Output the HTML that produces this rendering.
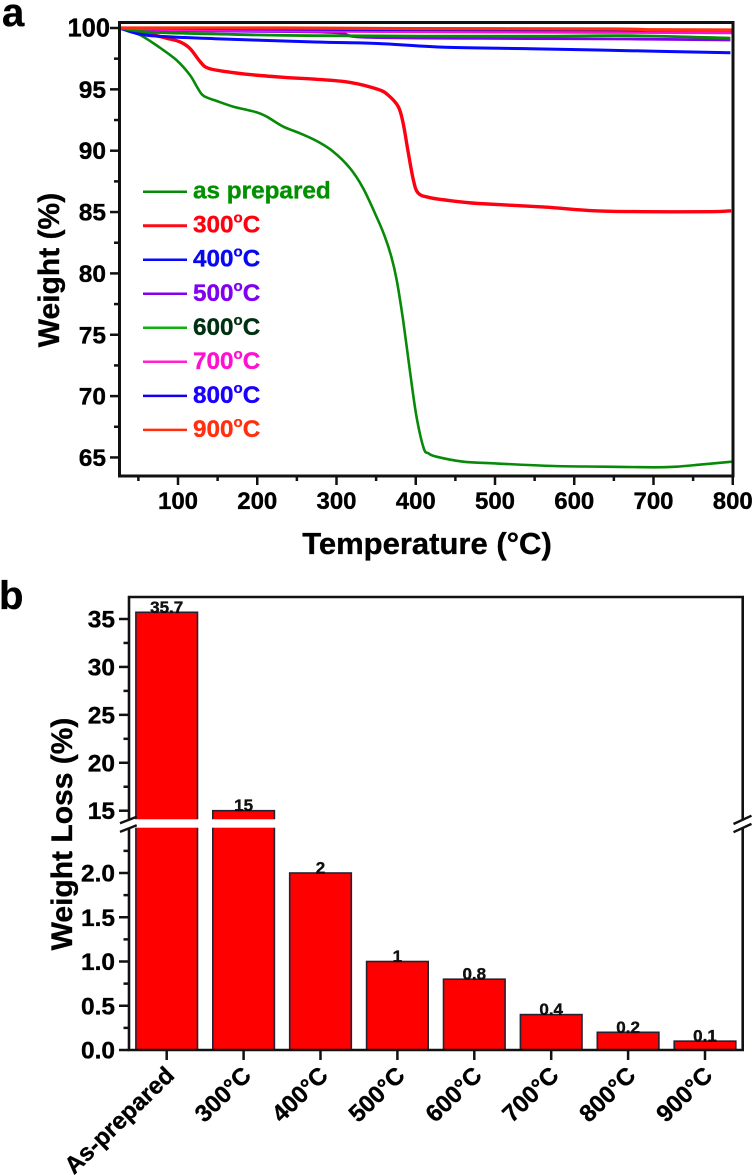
<!DOCTYPE html>
<html lang="en">
<head>
<meta charset="utf-8">
<title>TGA curves and weight loss</title>
<style>
html,body{margin:0;padding:0;background:#fff;}
svg{display:block;font-family:"Liberation Sans",Arial,sans-serif;font-weight:bold;filter:blur(0.3px);}
svg text{stroke:#000;stroke-width:.35;}
</style>
</head>
<body>
<svg id="fig" xmlns="http://www.w3.org/2000/svg" width="756" height="1175" viewBox="0 0 756 1175">
  <rect x="0" y="0" width="756" height="1175" fill="#fff"/>
  <text x="2" y="26" font-size="40" fill="#000">a</text>
  <text x="-1" y="609" font-size="40" fill="#000">b</text>
  <text x="427" y="554" font-size="31" text-anchor="middle" fill="#000">Temperature (°C)</text>
  <text transform="translate(59,270) rotate(-90)" font-size="30" text-anchor="middle" fill="#000">Weight (%)</text>
  <text transform="translate(72,834) rotate(-90)" font-size="30" text-anchor="middle" fill="#000">Weight Loss (%)</text>
  <g id="panelA"></g>
  <g id="panelB"></g>
</svg>
<script>
// ---------- Panel a data ----------
const tempAsPrepared = [26,52,77,98,115,124,132,149,170,199,212,233,254,275,296,317,334,352,361,369,376,384,393,401,410,416,426,460,498,574,637,700,729,763,799];
const weightAsPrepared = [100,99.43,98.4,97.39,96.17,95.2,94.48,94.05,93.59,93.13,92.77,91.96,91.42,90.79,89.92,88.57,86.9,84.4,83.0,81.4,79.46,76.2,71.88,68.32,65.75,65.34,65.06,64.65,64.52,64.3,64.25,64.2,64.25,64.44,64.65];
const temp300 = [26,60,86,102,115,128,138,161,191,233,275,317,352,365,378,384,390,397,403,416,437,479,563,626,690,773,798];
const weight300 = [100,99.57,99.16,98.88,98.34,97.25,96.72,96.44,96.2,95.98,95.82,95.57,95,94.54,93.59,92.26,90.06,87.6,86.55,86.2,85.98,85.7,85.4,85.1,85.03,85.03,85.1];
const temp400 = [26,62,147,273,352,437,544,670,797];
const weight400 = [100,99.4,99.13,98.86,98.74,98.43,98.31,98.15,97.99];
const temp500 = [26,60,125,241,304,342,544,670,797];
const weight500 = [100,99.88,99.76,99.71,99.59,99.23,99.14,99.1,99.02];
const temp600 = [26,62,147,273,544,670,797];
const weight600 = [100,99.67,99.51,99.37,99.33,99.37,99.18];
const temp700 = [26,100,300,500,800];
const weight700 = [100,99.85,99.72,99.66,99.6];
const temp800 = [26,300,500,640,800];
const weight800 = [100,99.88,99.85,99.83,99.8];
const temp900 = [26,230,400,650,700,800];
const weight900 = [100,100,99.95,99.92,99.86,99.84];

const seriesLabels = ['as prepared','300oC','400oC','500oC','600oC','700oC','800oC','900oC'];
const seriesKeys = ['as-prepared','300c','400c','500c','600c','700c','800c','900c'];
const xTicksA = [100,200,300,400,500,600,700,800];
const xMinorTicksA = [50,150,250,350,450,550,650,750];
const yTicksA = [65,70,75,80,85,90,95,100];
const yMinorTicksA = [67.5,72.5,77.5,82.5,87.5,92.5,97.5];

// ---------- Panel b data ----------
const barCategories = ['As-prepared','300°C','400°C','500°C','600°C','700°C','800°C','900°C'];
const barValues = [35.7,15,2,1,0.8,0.4,0.2,0.1];
const barValueLabels = ['35.7','15','2','1','0.8','0.4','0.2','0.1'];
const yTicksUpper = [15,20,25,30,35];
const yMinorUpper = [17.5,22.5,27.5,32.5];
const yTicksLower = ['0.0','0.5','1.0','1.5','2.0'];
const yMinorLower = [0.25,0.75,1.25,1.75,2.25];

// ---------- Helpers ----------
const SVGNS = 'http://www.w3.org/2000/svg';
function make(parent, tag, attrs, txt) {
  const el = document.createElementNS(SVGNS, tag);
  for (const k in attrs) el.setAttribute(k, attrs[k]);
  if (txt !== undefined) el.textContent = txt;
  parent.appendChild(el);
  return el;
}
function smoothPath(p) {
  let d = 'M' + p[0][0].toFixed(1) + ' ' + p[0][1].toFixed(1);
  for (let i = 0; i < p.length - 1; i++) {
    const a = p[Math.max(i - 1, 0)], b = p[i], c = p[i + 1], e = p[Math.min(i + 2, p.length - 1)];
    const c1x = b[0] + (c[0] - a[0]) / 6, c1y = b[1] + (c[1] - a[1]) / 6;
    const c2x = c[0] - (e[0] - b[0]) / 6, c2y = c[1] - (e[1] - b[1]) / 6;
    d += 'C' + c1x.toFixed(1) + ' ' + c1y.toFixed(1) + ' ' + c2x.toFixed(1) + ' ' + c2y.toFixed(1) + ' ' + c[0].toFixed(1) + ' ' + c[1].toFixed(1);
  }
  return d;
}
const BLACK = '#111';

// ---------- Panel a ----------
const A = {left:119.5, right:733, top:22.5, bottom:476};
const xA = t => 178 + (t - 100) * 0.7925;
const yA = w => 28 + (100 - w) * 12.27;
const gA = document.getElementById('panelA');
const seriesTemps = [tempAsPrepared,temp300,temp400,temp500,temp600,temp700,temp800,temp900];
const seriesWeights = [weightAsPrepared,weight300,weight400,weight500,weight600,weight700,weight800,weight900];
const seriesColors = ['#078a07','#ff0010','#0808ff','#8000f0','#078a07','#ff10d0','#1000f0','#ff3010'];
const legendLineColors = ['#078a07','#ff0a1a','#0808ff','#8000f0','#10b010','#ff20d0','#1000f0','#ff3010'];
const legendTextColors = ['#009000','#ff0010','#0808f0','#8000f0','#003010','#ff10d0','#1a00ff','#ff3010'];
const seriesWidths = [2.6,3.4,3,2.8,2.8,2.6,2.6,3.2];

seriesTemps.forEach((temps, i) => {
  const pts = temps.map((t, j) => [xA(t), yA(seriesWeights[i][j])]);
  const el = make(gA, 'path', {d: smoothPath(pts), fill: 'none', stroke: seriesColors[i], 'stroke-width': seriesWidths[i], 'stroke-linejoin': 'round'});
  
  
});

const frameA = make(gA, 'rect', {x: A.left, y: A.top, width: A.right - A.left, height: A.bottom - A.top, fill: 'none', stroke: BLACK, 'stroke-width': 3});



xTicksA.forEach(t => {
  const tick = make(gA, 'line', {x1: xA(t), x2: xA(t), y1: A.bottom, y2: 485, stroke: BLACK, 'stroke-width': 2.5});
  
  
  const lab = make(gA, 'text', {x: xA(t), y: 509, 'text-anchor': 'middle', 'font-size': 24, fill: '#000'}, String(t));
  
  
});
xMinorTicksA.forEach(t => {
  const tick = make(gA, 'line', {x1: xA(t), x2: xA(t), y1: A.bottom, y2: 481, stroke: BLACK, 'stroke-width': 2.5});
  
  
});
yTicksA.forEach(v => {
  const tick = make(gA, 'line', {x1: 110, x2: A.left, y1: yA(v), y2: yA(v), stroke: BLACK, 'stroke-width': 2.5});
  
  
  const lab = make(gA, 'text', {x: v === 100 ? 110 : 106, y: yA(v) + 8.5, 'text-anchor': 'end', 'font-size': v === 100 ? 25.5 : 24.5, fill: '#000'}, String(v));
  
  
});
yMinorTicksA.forEach(v => {
  const tick = make(gA, 'line', {x1: 114, x2: A.left, y1: yA(v), y2: yA(v), stroke: BLACK, 'stroke-width': 2.5});
  
  
});

seriesLabels.forEach((name, i) => {
  const ly = 191.7 + i * 34.02;
  const line = make(gA, 'line', {x1: 143, x2: 187, y1: ly, y2: ly, stroke: legendLineColors[i], 'stroke-width': i === 1 ? 3 : 2.5});
  
  
  const label = make(gA, 'text', {x: 193, y: ly + 7, 'font-size': 24.3, fill: legendTextColors[i]});
  label.style.stroke = legendTextColors[i];
  
  
  if (name.endsWith('oC')) {
    make(label, 'tspan', {}, name.slice(0, -2));
    make(label, 'tspan', {'font-size': 15, dy: -10}, 'o');
    make(label, 'tspan', {dy: 10}, 'C');
  } else {
    label.textContent = name;
  }
});

// ---------- Panel b ----------
const B = {left:129, right:742.7, top:597, bottom:1050, gapTop:819.3, gapBottom:827.7};
const yUpper = v => 810.7 - (v - 15) * 9.585;
const yLower = v => 1050 - v * 88.5;
const yB = v => v > 2.5 ? yUpper(v) : yLower(v);
const xB = i => 166.7 + i * 76.9;
const barW = 61.6;
const gB = document.getElementById('panelB');

barValues.forEach((v, i) => {
  const top = yB(v);
  const bar = make(gB, 'rect', {x: xB(i) - barW / 2, y: top, width: barW, height: B.bottom - top, fill: '#ff0000', stroke: '#223', 'stroke-width': 1.6});
  
  
  const val = make(gB, 'text', {x: xB(i), y: top + 0.5, 'text-anchor': 'middle', 'font-size': 17, fill: '#111'}, barValueLabels[i]);
  
  
  const tick = make(gB, 'line', {x1: xB(i), x2: xB(i), y1: B.bottom, y2: 1060, stroke: BLACK, 'stroke-width': 2.5});
  
  
  const ax = xB(i) + 9;
  const lab = make(gB, 'text', {transform: 'translate(' + ax + ',1077) rotate(-44)', 'text-anchor': 'end', 'font-size': 24, fill: '#000'}, barCategories[i]);
  
  
});

const frameB = make(gB, 'path', {d: 'M' + B.left + ' ' + B.bottom + 'V' + B.top + 'H' + B.right + 'V' + B.bottom + 'Z', fill: 'none', stroke: BLACK, 'stroke-width': 2.6});



yTicksUpper.forEach(v => {
  const tick = make(gB, 'line', {x1: 119, x2: B.left, y1: yUpper(v), y2: yUpper(v), stroke: BLACK, 'stroke-width': 2.5});
  
  
  const lab = make(gB, 'text', {x: 115, y: yUpper(v) + 8.5, 'text-anchor': 'end', 'font-size': 24.5, fill: '#000'}, String(v));
  
  
});
yMinorUpper.forEach(v => {
  const tick = make(gB, 'line', {x1: 123.5, x2: B.left, y1: yUpper(v), y2: yUpper(v), stroke: BLACK, 'stroke-width': 2.5});
  
  
});
yTicksLower.forEach(s => {
  const v = parseFloat(s);
  const tick = make(gB, 'line', {x1: 119, x2: B.left, y1: yLower(v), y2: yLower(v), stroke: BLACK, 'stroke-width': 2.5});
  
  
  const lab = make(gB, 'text', {x: 115, y: yLower(v) + 8.5, 'text-anchor': 'end', 'font-size': 24.5, fill: '#000'}, s);
  
  
});
yMinorLower.forEach(v => {
  const tick = make(gB, 'line', {x1: 123.5, x2: B.left, y1: yLower(v), y2: yLower(v), stroke: BLACK, 'stroke-width': 2.5});
  
  
});

const band = make(gB, 'rect', {x: 124, y: B.gapTop, width: 626, height: B.gapBottom - B.gapTop, fill: '#fff'});



const breakOffsets = [0, 8.6];
breakOffsets.forEach(off => {
  const l = make(gB, 'line', {x1: 120, y1: 823.3 + off, x2: 136.7, y2: 816.7 + off, stroke: BLACK, 'stroke-width': 2.4});
  
  
  const r = make(gB, 'line', {x1: 733.5, y1: 824 + off * 0.95, x2: 751.5, y2: 815.7 + off * 0.95, stroke: BLACK, 'stroke-width': 2.4});
  
  
});
</script>
</body>
</html>
